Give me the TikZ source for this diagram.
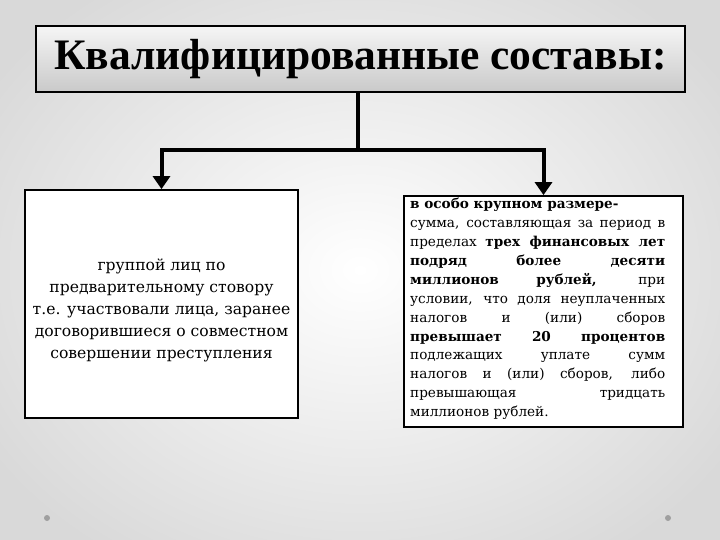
\documentclass[tikz,border=0pt]{standalone}
\usepackage{fontspec}
\setmainfont{DejaVu Serif}
\newfontfamily\titlefont{Liberation Serif}
\usetikzlibrary{arrows.meta}
\tikzset{
  conn/.style={line width=4pt, draw=black},
  arr/.style={conn, -{Triangle[width=17pt,length=13pt]}},
  boxy/.style={draw=black, line width=1.8pt, fill=white, inner sep=0pt},
  dotty/.style={circle, fill=gray!75, inner sep=0pt, minimum size=6pt}
}
\newcommand\jline[1]{\makebox[255pt][s]{#1}\\}
\newcommand\lline[1]{\makebox[255pt][l]{#1}\\}
\begin{document}
\begin{tikzpicture}[x=1pt,y=-1pt]
\useasboundingbox (0,0) rectangle (720,540);
\shade[inner color=white, outer color=gray!30] (-80,-80) rectangle (800,620);
\node[dotty] (d1) at (47,518) {};
\node[dotty] (d2) at (668,518) {};
% title
\node[draw=black, line width=1.3pt, top color=gray!8, bottom color=gray!42,
      minimum width=649pt, minimum height=66pt, inner sep=0pt] (t) at (360.5,59)
  {\titlefont\bfseries\fontsize{43.5}{46}\selectfont Квалифицированные составы:};
% left box
\node[boxy, minimum width=273pt, minimum height=228pt] (l) at (161.5,304) {};
\node[align=center, font=\fontsize{15.6}{22}\selectfont] (lt) at (161.5,310)
 {группой лиц по\\ предварительному стовору\\ т.е. участвовали лица, заранее\\ договорившиеся о совместном\\ совершении преступления};
% right box
\node[boxy, minimum width=279pt, minimum height=231pt] (r) at (543.5,311.5) {};
\node[anchor=north west, align=left, inner sep=0pt, font=\fontsize{13.6}{18.9}\selectfont] (rt) at (410,198)
 {\lline{\bfseries в особо крупном размере-}%
  \jline{сумма, составляющая за период в}%
  \jline{пределах \bfseries трех финансовых лет}%
  \jline{\bfseries подряд более десяти}%
  \jline{\bfseries миллионов рублей,\mdseries{} при}%
  \jline{условии, что доля неуплаченных}%
  \jline{налогов и (или) сборов}%
  \jline{\bfseries превышает 20 процентов}%
  \jline{подлежащих уплате сумм}%
  \jline{налогов и (или) сборов, либо}%
  \jline{превышающая тридцать}%
  \makebox[255pt][l]{миллионов рублей.}};
% connectors
\coordinate (j) at (358,150);
\draw[conn] (t.south -| j) -- (j);
\draw[arr] (j) -| (l.north);
\draw[arr] (j) -| (r.north);
\end{tikzpicture}
\end{document}
